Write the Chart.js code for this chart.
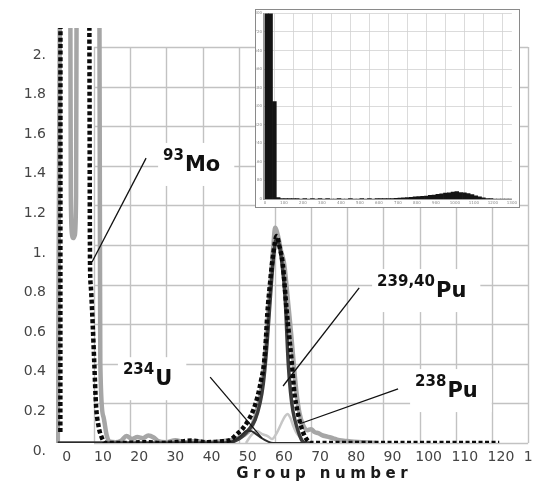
<!DOCTYPE html>
<html>
<head>
<meta charset="utf-8">
<script src="https://cdn.jsdelivr.net/npm/chart.js@4.4.1/dist/chart.umd.min.js"></script>
<style>
  body { margin: 0; width: 533px; height: 483px; overflow: hidden; background: #fff; }
  #main { position: absolute; left: 0; top: 0; }
  #insetBox { position: absolute; left: 255px; top: 9px; width: 263px; height: 197px;
              border: 1px solid #8a8a8a; background: #fff; }
  #inset { display: block; }
</style>
</head>
<body>
<canvas id="main" width="560" height="483"></canvas>
<div id="insetBox"><canvas id="inset" width="263" height="197"></canvas></div>
<script>
// tick labels
const xTicks = [0, 10, 20, 30, 40, 50, 60, 70, 80, 90, 100, 110, 120, 130];
const yTicks = [0, 0.2, 0.4, 0.6, 0.8, 1, 1.2, 1.4, 1.6, 1.8, 2];

// total fit (black dotted)
const sumX = [0.7, 0.75, 3, 6, 8.7, 8.9, 9.1, 9.65, 10.1, 10.56, 11.2, 12.1, 13.3, 18, 24, 29, 33, 37, 41, 45,
  47.6, 49.5, 50.8, 52.7, 54.05, 55.2, 56.2, 57.0, 57.5, 57.9, 58.7, 59.5, 60.5, 61.3, 62.2, 63.2, 64.7, 65.4,
  66.0, 67.0, 67.9, 69.3, 70.5, 80, 90, 100, 110, 122];
const sumY = [0.056, 3, 6, 5, 2.2, 0.914, 0.798, 0.596, 0.394, 0.192, 0.091, 0.03, 0, 0, 0.004, 0, 0.005, 0.012, 0.004, 0.008,
  0.015, 0.045, 0.066, 0.116, 0.167, 0.234, 0.318, 0.404, 0.52, 0.65, 0.815, 0.95, 1.045, 0.99, 0.9, 0.68, 0.40, 0.25,
  0.183, 0.10, 0.049, 0.007, 0, 0, 0, 0, 0, 0];

// measured spectrum (thick grey)
const greyX = [0, 0.8, 2.0, 3.45, 3.6, 3.95, 4.3, 4.7, 5.05, 5.2, 7, 10, 11.5, 11.65, 11.75, 12.6, 13.5, 14.4, 16, 17.5,
  19, 20.5, 22, 23.5, 25, 26.5, 27.7, 30, 32.5, 35, 38, 42, 46, 49, 51.5, 53.5, 55, 56.3, 57.3, 58.1,
  58.9, 59.6, 60.05, 60.8, 61.7, 62.6, 63.7, 64.5, 65.2, 66.0, 66.8, 67.8, 69, 70, 71, 72, 73, 74.5, 76, 77.5,
  79, 81, 84, 88];
const greyY = [0, 3, 4, 2.3, 1.25, 1.05, 1.035, 1.05, 1.25, 2.3, 5, 5, 2.2, 1.0, 0.4, 0.133, 0.04, 0.007, 0.004, 0.012,
  0.035, 0.02, 0.03, 0.024, 0.038, 0.028, 0.01, 0.004, 0.014, 0.004, 0.01, 0.004, 0.01, 0.02, 0.04, 0.08, 0.16, 0.28, 0.45, 0.64,
  0.84, 1.0, 1.087, 1.05, 0.97, 0.9, 0.7, 0.55, 0.4, 0.25, 0.15, 0.09, 0.065, 0.07, 0.055, 0.05, 0.04, 0.032, 0.025, 0.015,
  0.012, 0.007, 0.004, 0];

// 239,240Pu component
const puX = [0, 46, 50, 52.7, 54.5, 55.9, 56.8, 57.6, 58.3, 59.0, 59.7, 60.4, 61.2, 62.0, 62.8, 63.7, 64.3, 65.0, 66.05, 67.4, 68.5, 70];
const puY = [0, 0, 0.02, 0.066, 0.116, 0.202, 0.3, 0.45, 0.62, 0.8, 0.95, 1.03, 1.0, 0.9, 0.74, 0.40, 0.26, 0.16, 0.082, 0.015, 0, 0];

// 234U component
const uX = [0, 46, 48.4, 50.5, 52.3, 53.5, 54.8, 56.4, 58, 59.5, 68.5];
const uY = [0, 0, 0.007, 0.035, 0.062, 0.06, 0.045, 0.024, 0.008, 0, 0];

// 238Pu component
const pu238X = [52, 53.5, 55, 56.5, 58, 59.2, 60.5, 61.8, 62.8, 63.5, 64.2, 65, 66, 67.5];
const pu238Y = [0, 0.04, 0.06, 0.045, 0.035, 0.02, 0.05, 0.1, 0.135, 0.147, 0.13, 0.09, 0.05, 0.02];

// inset histogram
const insetBins = [10, 30, 50, 70, 90, 110, 130, 150, 170, 190, 210, 230, 250, 270, 290, 310, 330, 350, 370, 390,
  410, 430, 450, 470, 490, 510, 530, 550, 570, 590, 610, 630, 650, 670, 690, 710, 730, 750, 770, 790,
  810, 830, 850, 870, 890, 910, 930, 950, 970, 990, 1010, 1030, 1050, 1070, 1090, 1110, 1130, 1150, 1170, 1190,
  1210, 1230, 1250, 1270, 1290];
const insetCounts = [950, 950, 420, 6, 1, 1, 2, 1, 1, 0, 1, 0, 1, 0, 1, 0, 1, 0, 0, 1,
  0, 0, 1, 0, 0, 1, 0, 1, 0, 1, 1, 1, 2, 2, 3, 4, 5, 6, 7, 9,
  10, 12, 13, 16, 17, 20, 22, 26, 27, 30, 32, 28, 27, 23, 19, 14, 9, 5, 2, 1,
  0, 0, 0, 0, 0];
const insetXTicks = [0, 100, 200, 300, 400, 500, 600, 700, 800, 900, 1000, 1100, 1200, 1300];
const insetYTicks = [0, 80, 160, 240, 320, 400, 480, 560, 640, 720, 800];

// labels with leader lines
const notes = [
  { sup: '93', main: 'Mo', x: 29.1, y: 1.374, fromX: 24.4, fromY: 1.439, toX: 9.46, toY: 0.914 },
  { sup: '234', main: 'U', x: 18.0, y: 0.292, fromX: 42.1, fromY: 0.333, toX: 56.45, toY: 0.025 },
  { sup: '239,40', main: 'Pu', x: 88.25, y: 0.737, fromX: 83.3, fromY: 0.783, toX: 62.26, toY: 0.288 },
  { sup: '238', main: 'Pu', x: 98.75, y: 0.232, fromX: 94.05, fromY: 0.273, toX: 66.7, toY: 0.096 }
];

const FONT = "'DejaVu Sans', Verdana, sans-serif";

function points(xs, ys) {
  return xs.map((x, i) => ({ x: x, y: ys[i] }));
}

function lineSet(xs, ys, color, width, dash) {
  return {
    data: points(xs, ys),
    borderColor: color,
    borderWidth: width,
    borderDash: dash || [],
    pointRadius: 0,
    cubicInterpolationMode: 'monotone',
    clip: 0,
    fill: false
  };
}

function yLabel(v) {
  if (Number.isInteger(v)) return v + '.';
  return v.toFixed(1);
}

function measureNote(ctx, n) {
  ctx.font = 'bold 15px ' + FONT;
  const ws = ctx.measureText(n.sup).width;
  ctx.font = 'bold 21px ' + FONT;
  const wm = ctx.measureText(n.main).width;
  return { ws: ws, wm: wm };
}

// grid only inside the box 10..130 x 0..2, plus white boxes behind the labels
const boxGrid = {
  id: 'boxGrid',
  beforeDatasetsDraw(chart) {
    const { ctx, scales: { x, y } } = chart;
    const gx = xTicks.filter(v => v >= 10);
    const x0 = x.getPixelForValue(gx[0]), x1 = x.getPixelForValue(gx[gx.length - 1]);
    const y0 = y.getPixelForValue(0), y1 = y.getPixelForValue(2);
    ctx.save();
    ctx.strokeStyle = '#c2c2c2';
    ctx.lineWidth = 1.4;
    ctx.beginPath();
    gx.forEach(v => {
      const px = Math.round(x.getPixelForValue(v)) + 0.5;
      ctx.moveTo(px, y0);
      ctx.lineTo(px, y1);
    });
    yTicks.forEach(v => {
      const py = Math.round(y.getPixelForValue(v)) + 0.5;
      ctx.moveTo(x0, py);
      ctx.lineTo(x1, py);
    });
    ctx.stroke();

    ctx.fillStyle = '#fff';
    notes.forEach(n => {
      const m = measureNote(ctx, n);
      const px = x.getPixelForValue(n.x), py = y.getPixelForValue(n.y);
      ctx.fillRect(px - 5, py - 28, m.ws + m.wm + 20, 43);
    });
    ctx.restore();
  },
  afterDatasetsDraw(chart) {
    const { ctx, scales: { x, y } } = chart;
    ctx.save();
    notes.forEach(n => {
      ctx.strokeStyle = '#111';
      ctx.lineWidth = 1.3;
      ctx.beginPath();
      ctx.moveTo(x.getPixelForValue(n.fromX), y.getPixelForValue(n.fromY));
      ctx.lineTo(x.getPixelForValue(n.toX), y.getPixelForValue(n.toY));
      ctx.stroke();

      const m = measureNote(ctx, n);
      const px = x.getPixelForValue(n.x), py = y.getPixelForValue(n.y);
      ctx.fillStyle = '#111';
      ctx.textBaseline = 'alphabetic';
      ctx.textAlign = 'left';
      ctx.font = 'bold 15px ' + FONT;
      ctx.fillText(n.sup, px, py - 11);
      ctx.font = 'bold 21px ' + FONT;
      ctx.fillText(n.main, px + m.ws + 1, py);
    });

    // axis title, letter-spaced
    ctx.font = 'bold 15px ' + FONT;
    ctx.letterSpacing = '4.5px';
    const title = 'Group number';
    const w = ctx.measureText(title).width - 4.5;
    ctx.fillStyle = '#1a1a1a';
    ctx.fillText(title, x.getPixelForValue(73) - w / 2, 478);
    ctx.restore();
  }
};

new Chart(document.getElementById('main'), {
  type: 'line',
  data: {
    datasets: [
      lineSet(sumX, sumY, '#0a0a0a', 4.5, [4, 2.5]),
      lineSet(uX, uY, '#2b2b2b', 2),
      lineSet(puX, puY, '#3c3c3c', 3.5),
      lineSet(pu238X, pu238Y, '#c6c6c6', 2.5),
      lineSet(greyX, greyY, '#a6a6a6', 4.5)
    ]
  },
  options: {
    responsive: false,
    animation: false,
    devicePixelRatio: 1,
    layout: { padding: { top: 28, left: 0, right: 0, bottom: 0 } },
    plugins: { legend: { display: false }, tooltip: { enabled: false } },
    scales: {
      x: {
        type: 'linear',
        min: -0.5,
        max: 138.8,
        grid: { display: false, drawTicks: false },
        border: { display: false },
        afterBuildTicks: s => { s.ticks = xTicks.map(v => ({ value: v })); },
        afterFit: s => { s.height = 40; },
        ticks: {
          labelOffset: 9, padding: 6, maxRotation: 0, autoSkip: false,
          color: '#444', font: { family: FONT, size: 14 }
        }
      },
      y: {
        type: 'linear',
        min: 0,
        max: 2.096,
        grid: { display: false, drawTicks: false },
        border: { display: false },
        afterBuildTicks: s => { s.ticks = yTicks.map(v => ({ value: v })); },
        afterFit: s => { s.width = 56; },
        ticks: {
          labelOffset: 8, padding: 10, autoSkip: false,
          color: '#444', font: { family: FONT, size: 14 },
          callback: v => yLabel(v)
        }
      }
    }
  },
  plugins: [boxGrid]
});

// small overview histogram
new Chart(document.getElementById('inset'), {
  type: 'bar',
  data: {
    datasets: [{
      data: points(insetBins, insetCounts),
      backgroundColor: '#141414',
      borderWidth: 0,
      barPercentage: 1,
      categoryPercentage: 1,
      clip: 0
    }]
  },
  options: {
    responsive: false,
    animation: false,
    devicePixelRatio: 1,
    layout: { padding: { top: 1, right: 1, left: 0, bottom: 0 } },
    plugins: { legend: { display: false }, tooltip: { enabled: false } },
    scales: {
      x: {
        type: 'linear',
        min: -10,
        max: 1300,
        offset: false,
        grid: { color: '#d2d2d2', lineWidth: 0.8, drawTicks: false },
        border: { color: '#9a9a9a' },
        afterBuildTicks: s => { s.ticks = insetXTicks.map(v => ({ value: v })); },
        afterFit: s => { s.height = 8; },
        ticks: {
          padding: 2, maxRotation: 0, autoSkip: false, color: '#888', font: { family: FONT, size: 4 },
          callback: v => String(v)
        }
      },
      y: {
        type: 'linear',
        min: 0,
        max: 800,
        grid: { color: '#d2d2d2', lineWidth: 0.8, drawTicks: false },
        border: { color: '#9a9a9a' },
        afterBuildTicks: s => { s.ticks = insetYTicks.map(v => ({ value: v })); },
        afterFit: s => { s.width = 7; },
        ticks: {
          padding: 1, autoSkip: false, color: '#888', font: { family: FONT, size: 4 },
          callback: v => String(v)
        }
      }
    }
  }
});
</script>
</body>
</html>
